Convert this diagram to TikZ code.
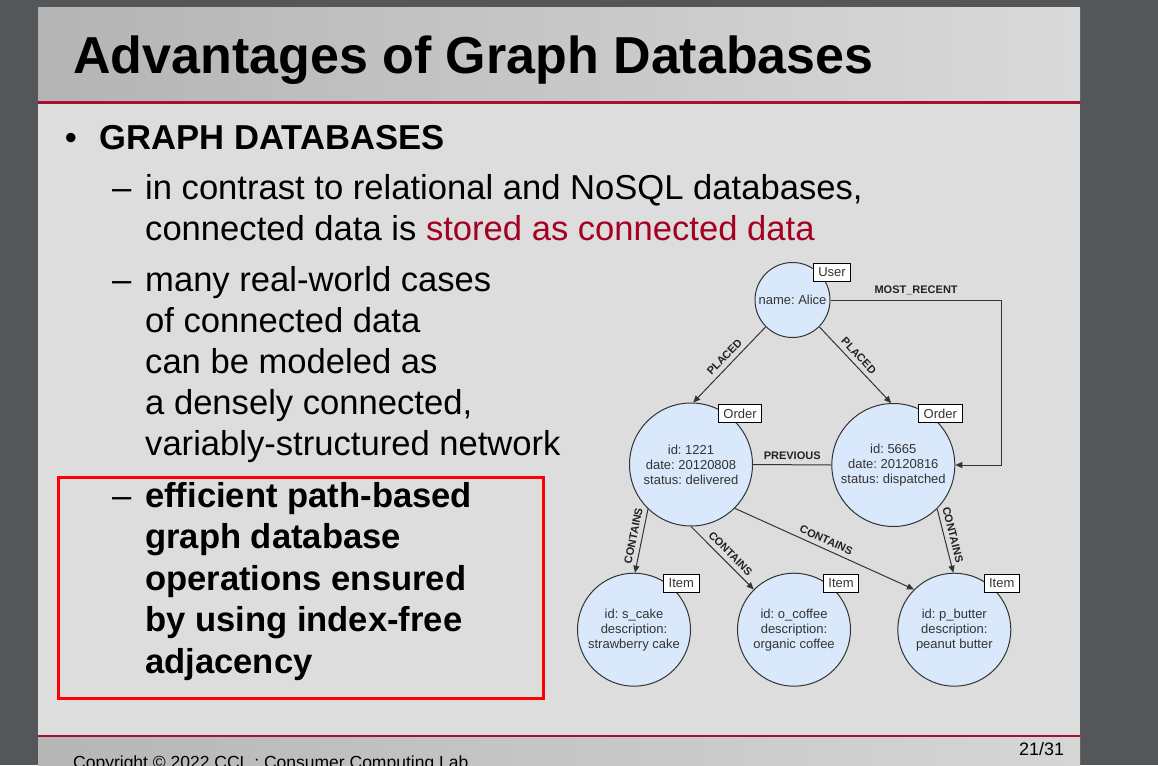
\documentclass[tikz,border=0pt]{standalone}
\usepackage{fontspec}
\setmainfont{Liberation Sans}
\frenchspacing
\usetikzlibrary{arrows.meta, calc}

\definecolor{deskgray}{RGB}{83,87,90}
\definecolor{slidegray}{RGB}{221,221,221}
\definecolor{bandleft}{RGB}{180,180,180}
\definecolor{bandright}{RGB}{218,218,218}
\definecolor{footleft}{RGB}{182,182,182}
\definecolor{footright}{RGB}{214,214,214}
\definecolor{crimson}{RGB}{170,16,45}
\definecolor{accentred}{RGB}{165,0,33}
\definecolor{nodeblue}{RGB}{218,232,252}
\definecolor{edgegray}{RGB}{51,51,51}
\definecolor{textgray}{RGB}{51,51,51}
\definecolor{labelgray}{RGB}{34,34,34}

\begin{document}
\begin{tikzpicture}[
    x=1pt, y=-1pt,
    entity/.style={circle, draw=edgegray, fill=nodeblue, line width=1pt, inner sep=0pt, align=center, font=\fontsize{13}{15}\selectfont, text=textgray},
    user/.style={entity, minimum size=75pt},
    order/.style={entity, minimum size=123pt},
    item/.style={entity, minimum size=113pt},
    tag/.style={rectangle, draw=black, fill=white, line width=0.8pt, inner xsep=5pt, inner ysep=0pt, minimum height=18pt, font=\fontsize{13}{15}\selectfont, text=textgray},
    rel/.style={draw=edgegray, line width=1pt},
    arrow/.style={rel, -{Triangle[length=7pt, width=6pt]}},
    rellabel/.style={font=\fontsize{11}{13}\selectfont\bfseries, text=labelgray, inner sep=4.5pt, sloped, above},
    bodytext/.style={anchor=base west, align=left, inner sep=0pt, font=\fontsize{34.6}{41}\selectfont}
]

% Slide background
\useasboundingbox (0,0) rectangle (1158,765);
\fill[deskgray] (0,0) rectangle (1158,765);
\fill[slidegray] (38,8) rectangle (1080,765);
\shade[left color=bandleft, right color=bandright] (38,8) rectangle (1080,101);
\fill[crimson] (38,101) rectangle (1080,104);
\fill[crimson] (38,735) rectangle (1080,737.5);
\shade[left color=footleft, right color=footright] (38,737.5) rectangle (1080,765);

% Title and footer
\node[anchor=base west, inner sep=0pt, font=\fontsize{52}{60}\selectfont\bfseries] (title) at (73,74) {Advantages of Graph Databases};
\node[anchor=base west, inner sep=0pt, font=\fontsize{17.5}{20}\selectfont] (copyright) at (73,768) {Copyright © 2022 CCL : Consumer Computing Lab};
\node[anchor=base west, inner sep=0pt, font=\fontsize{18}{20}\selectfont] (pageno) at (1019,755.7) {21/31};

% Bullet text (left), multi-line nodes sit on their last baseline
\node[bodytext] (bullet) at (64.6,149) {•};
\node[bodytext, font=\fontsize{34.6}{41}\selectfont\bfseries] (heading) at (99.6,149) {GRAPH DATABASES};
\node[bodytext] (dashA) at (112,199) {–};
\node[bodytext] (contrast) at (145,240) {in contrast to relational and NoSQL databases,\\connected data is \textcolor{accentred}{stored as connected data}};
\node[bodytext] (dashB) at (112,291) {–};
\node[bodytext] (realworld) at (145,455) {many real-world cases\\of connected data\\can be modeled as\\a densely connected,\\variably-structured network};
\node[bodytext] (dashC) at (112,507) {–};
\node[bodytext, font=\fontsize{34.6}{41.5}\selectfont\bfseries] (adjacency) at (145,673) {efficient path-based\\graph database\\operations ensured\\by using index-free\\adjacency};
\draw[red, line width=3pt] (58,477) rectangle (543,698);

% Graph nodes (right)
\node[user] (alice) at (792.5,300) {name: Alice};
\node[order] (order1221) at (691,464.5) {id: 1221\\date: 20120808\\status: delivered};
\node[order] (order5665) at (893.3,465) {id: 5665\\date: 20120816\\status: dispatched};
\node[item] (cake) at (634,629.7) {id: s\_cake\\description:\\strawberry cake};
\node[item] (coffee) at (794,629.7) {id: o\_coffee\\description:\\organic coffee};
\node[item] (butter) at (954.3,629.7) {id: p\_butter\\description:\\peanut butter};

% Node type tags
\node[tag] (aliceTag) at ($(alice)+(39.5,-28)$) {User};
\node[tag] (order1221Tag) at ($(order1221)+(49,-51)$) {Order};
\node[tag] (order5665Tag) at ($(order5665)+(47,-51.5)$) {Order};
\node[tag] (cakeTag) at ($(cake)+(47.3,-46.4)$) {Item};
\node[tag] (coffeeTag) at ($(coffee)+(47.1,-46.4)$) {Item};
\node[tag] (butterTag) at ($(butter)+(47.4,-46.4)$) {Item};

% Relationships
\coordinate (recentTurn) at (1001.7,300);
\draw[arrow] (alice.225) -- node[rellabel, pos=0.48] {PLACED} (order1221.88);
\draw[arrow] (alice.315) -- node[rellabel, pos=0.46] {PLACED} (order5665.92);
\draw[arrow] (alice.east) -- node[rellabel] {MOST\_RECENT} (recentTurn) |- (order5665.east);
\draw[rel] (order1221.east) -- node[rellabel] {PREVIOUS} (order5665.west);
\draw[arrow] (order1221.226) -- node[rellabel, pos=0.45] {CONTAINS} (cake.89);
\draw[arrow] (order1221.270) -- node[rellabel, pos=0.53] {CONTAINS} (coffee.135);
\draw[arrow] (order1221.315) -- node[rellabel, pos=0.49] {CONTAINS} (butter.135);
\draw[arrow] (order5665.315) -- node[rellabel, pos=0.44] {CONTAINS} (butter.91);

\end{tikzpicture}
\end{document}
